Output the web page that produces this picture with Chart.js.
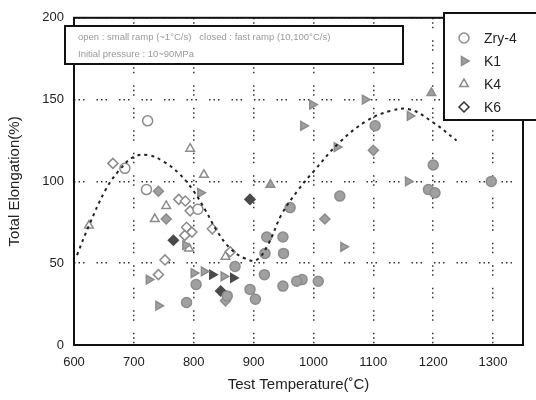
<!DOCTYPE html>
<html>
<head>
<meta charset="utf-8">
<script src="https://cdn.jsdelivr.net/npm/chart.js@4.4.1/dist/chart.umd.min.js"></script>
<style>
  html, body { margin: 0; padding: 0; background: #fff; }
  #wrap { width: 536px; height: 400px; position: relative; }
</style>
</head>
<body>
<div id="wrap"><canvas id="elongChart" width="536" height="400"></canvas></div>
<script>
// values (temperature in C, elongation in %)
const zryOpenT = [723, 685, 721, 807];
const zryOpenE = [137, 108, 95, 83];
const zryFilledT = [1103, 1200, 1192, 1203, 1044, 961, 922, 949, 918, 894, 903, 949, 981, 1008, 972, 919, 950, 869, 856, 788, 804, 1297];
const zryFilledE = [134, 110, 95, 93, 91, 84, 66, 66, 43, 34, 28, 36, 40, 39, 39, 56, 56, 48, 30, 26, 37, 100];
const k1T = [998, 1086, 1161, 983, 1039, 1158, 1050, 811, 786, 800, 817, 850, 725, 741];
const k1E = [147, 150, 140, 134, 121, 100, 60, 93, 61, 44, 45, 42, 40, 24];
const k1DarkT = [831, 866];
const k1DarkE = [43, 41];
const k4OpenT = [625, 794, 817, 735, 754, 792, 853];
const k4OpenE = [73, 120, 104, 77, 85, 59, 54];
const k4FilledT = [1197, 928];
const k4FilledE = [154, 98];
const k6OpenT = [665, 775, 786, 794, 788, 797, 785, 831, 752, 741, 861];
const k6OpenE = [111, 89, 88, 82, 72, 69, 67, 71, 52, 43, 57];
const k6FilledT = [741, 754, 1100, 1019, 853];
const k6FilledE = [94, 77, 119, 77, 27];
const k6DarkT = [766, 894, 845];
const k6DarkE = [64, 89, 33];
// dashed trend curve
const curveT = [605, 625, 653, 676, 700, 725, 750, 775, 800, 820, 840, 861, 885, 905, 925, 947, 975, 1000, 1044, 1089, 1128, 1161, 1200, 1239];
const curveE = [55, 73, 95, 107, 115, 116, 112, 105, 94, 82, 69, 59, 53, 52, 62, 80, 95, 106, 124, 137, 143, 144, 136, 125];

const legendNames = ["Zry-4", "K1", "K4", "K6"];
const noteLines = ["open : small ramp (~1\u00B0C/s)   closed : fast ramp (10,100\u00B0C/s)", "Initial pressure : 10~90MPa"];

function pts(xs, ys) {
  return xs.map((x, i) => ({ x: x, y: ys[i] }));
}

const GRAY = "#8c8c8c";
const FILL = "#a0a0a0";
const DARK = "#4a4a4a";
const FONT = "'Liberation Sans', Arial, sans-serif";

function marker(label, data, style, fill, edge, rot) {
  return {
    type: "scatter",
    label: label,
    data: data,
    pointStyle: style,
    rotation: rot || 0,
    pointRadius: 5,
    pointBackgroundColor: fill,
    pointBorderColor: edge,
    pointBorderWidth: 1.5,
    showLine: false
  };
}

const datasets = [
  {
    type: "line",
    label: "trend",
    data: pts(curveT, curveE),
    borderColor: "#222",
    borderWidth: 2,
    borderDash: [3, 4],
    pointRadius: 0,
    tension: 0.4,
    fill: false
  },
  marker("Zry-4 open", pts(zryOpenT, zryOpenE), "circle", "#fff", GRAY),
  marker("Zry-4 closed", pts(zryFilledT, zryFilledE), "circle", FILL, GRAY),
  marker("K1", pts(k1T, k1E), "triangle", FILL, GRAY, 90),
  marker("K1 dark", pts(k1DarkT, k1DarkE), "triangle", DARK, DARK, 90),
  marker("K4 open", pts(k4OpenT, k4OpenE), "triangle", "#fff", GRAY),
  marker("K4 closed", pts(k4FilledT, k4FilledE), "triangle", FILL, GRAY),
  marker("K6 open", pts(k6OpenT, k6OpenE), "rectRot", "#fff", GRAY),
  marker("K6 closed", pts(k6FilledT, k6FilledE), "rectRot", FILL, GRAY),
  marker("K6 dark", pts(k6DarkT, k6DarkE), "rectRot", DARK, DARK)
];

// frame, note box and legend box
const boxesPlugin = {
  id: "boxes",
  afterDraw(chart) {
    const ctx = chart.ctx;
    const a = chart.chartArea;
    ctx.save();
    ctx.strokeStyle = "#111";
    ctx.lineWidth = 2;
    ctx.strokeRect(a.left, a.top, a.right - a.left, a.bottom - a.top);

    // note box
    ctx.fillStyle = "#fff";
    ctx.fillRect(65, 26, 338, 38);
    ctx.strokeRect(65, 26, 338, 38);
    ctx.fillStyle = "#999";
    ctx.font = "9.5px " + FONT;
    ctx.textBaseline = "middle";
    ctx.fillText(noteLines[0], 78, 37);
    ctx.fillText(noteLines[1], 78, 54);

    // legend box
    ctx.fillStyle = "#fff";
    ctx.fillRect(444, 13, 100, 107);
    ctx.strokeStyle = "#111";
    ctx.strokeRect(444, 13, 100, 107);
    const styles = [
      { s: "circle", f: "#fff", e: GRAY, r: 0 },
      { s: "triangle", f: FILL, e: GRAY, r: 90 },
      { s: "triangle", f: "#fff", e: GRAY, r: 0 },
      { s: "rectRot", f: "#fff", e: "#333", r: 0 }
    ];
    ctx.font = "14px " + FONT;
    legendNames.forEach((name, i) => {
      const y = 38 + i * 23;
      const st = styles[i];
      ctx.fillStyle = st.f;
      ctx.strokeStyle = st.e;
      ctx.lineWidth = 1.5;
      Chart.helpers.drawPoint(ctx, { pointStyle: st.s, radius: 5, rotation: st.r, borderWidth: 1.5 }, 464, y);
      ctx.fillStyle = "#222";
      ctx.fillText(name, 484, y + 1);
    });
    ctx.restore();
  }
};

const gridStyle = {
  color: "#333",
  lineWidth: 1.5,
  drawTicks: false
};

new Chart(document.getElementById("elongChart").getContext("2d"), {
  data: { datasets: datasets },
  options: {
    responsive: false,
    animation: false,
    layout: { padding: { top: 17, right: 13, left: 0, bottom: 0 } },
    plugins: { legend: { display: false }, tooltip: { enabled: false } },
    scales: {
      x: {
        type: "linear",
        min: 600,
        max: 1350,
        afterFit: (s) => { s.height = 55; },
        grid: gridStyle,
        border: { display: false, dash: [1.5, 3, 1.5, 3, 1.5, 12] },
        ticks: {
          stepSize: 100,
          includeBounds: false,
          padding: 10,
          color: "#222",
          callback: (v) => String(v),
          font: { family: FONT, size: 13 }
        },
        title: {
          display: true,
          text: "Test Temperature(\u02DAC)",
          color: "#222",
          padding: { top: 0, bottom: 6 },
          font: { family: FONT, size: 15 }
        }
      },
      y: {
        type: "linear",
        min: 0,
        max: 200,
        afterFit: (s) => { s.width = 74; },
        grid: gridStyle,
        border: { display: false, dash: [1.5, 3, 1.5, 3, 1.5, 12] },
        ticks: {
          stepSize: 50,
          padding: 10,
          color: "#222",
          callback: (v) => String(v),
          font: { family: FONT, size: 13 }
        },
        title: {
          display: true,
          text: "Total Elongation(%)",
          color: "#222",
          padding: { top: 6, bottom: 0 },
          font: { family: FONT, size: 15 }
        }
      }
    }
  },
  plugins: [boxesPlugin]
});
</script>
</body>
</html>
